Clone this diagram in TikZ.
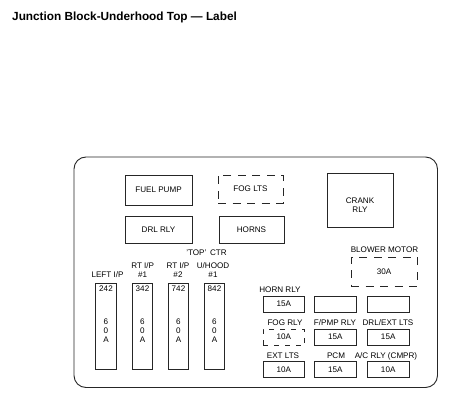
\documentclass[tikz,border=0pt]{standalone}
\usepackage{fontspec}
\setmainfont{Liberation Sans}
\begin{document}
\begin{tikzpicture}[x=1pt,y=-1pt,
  lbl/.style={font=\fontsize{8.1}{8.7}\selectfont, inner sep=0pt, text=black, align=center},
  box/.style={draw=black!85, line width=0.9pt, inner sep=0pt, font=\fontsize{8.1}{8.7}\selectfont, text=black, align=center},
  dbox/.style={box, dash pattern=on 8pt off 6.5pt},
  tall/.style={box, minimum width=20.5pt, minimum height=86pt},
  small/.style={box, minimum width=41.5pt, minimum height=16pt}
]
\useasboundingbox (0,0) rectangle (474,409);
\node[anchor=base west, inner sep=0pt, font=\fontsize{11.8}{13}\selectfont\bfseries] (title) at (12,21) {Junction Block-Underhood Top --- Label};

\node[draw=black!85, line width=0.9pt, rounded corners=12pt, minimum width=363.5pt, minimum height=230.5pt] (frame) at (255.75,272.25) {};

% relays top
\node[box, minimum width=67pt, minimum height=30pt] (fuel) at (158.5,190) {FUEL PUMP};
\node[dbox, minimum width=65pt, minimum height=28pt] (fog) at (250.5,189) {FOG LTS};
\node[box, minimum width=67pt, minimum height=27pt] (drl) at (158.5,229.5) {DRL RLY};
\node[box, minimum width=65pt, minimum height=27pt] (horns) at (251.5,229.5) {HORNS};
\node[box, minimum width=66pt, minimum height=54pt] (crank) at (360,200) {};
\node[lbl] (crankt) at (360,205.5) {CRANK\\RLY};
\node[lbl] (topctr) at (206.5,252.5) {'TOP'\,\ CTR};

% blower motor
\node[lbl] (blowl) at (384.5,250) {BLOWER MOTOR};
\node[dbox, minimum width=66pt, minimum height=29pt] (blow) at (384,271.5) {30A};

% tall fuses
\node[tall] (f1) at (106,326.5) {};
\node[tall] (f2) at (142.5,326.5) {};
\node[tall] (f3) at (178.5,326.5) {};
\node[tall] (f4) at (214.5,326.5) {};
\node[lbl] (l1) at (107.5,275) {LEFT I/P};
\node[lbl] (l2) at (142.7,270) {RT I/P\\\#1};
\node[lbl] (l3) at (178,270) {RT I/P\\\#2};
\node[lbl] (l4) at (213,270) {U/HOOD\\\#1};
\foreach \n/\x/\t in {1/106/242,2/142.5/342,3/178.5/742,4/214.5/842}{
  \node[lbl] (n\n) at (\x,289) {\t};
  \node[lbl] (a\n) at (\x,330.5) {6\\[0.2pt]0\\[0.2pt]A};
}

% small fuses
\node[lbl] (hornl) at (280,290) {HORN RLY};
\node[small] (horn) at (283.8,304) {15A};
\node[small, minimum width=42.5pt] (e1) at (335.4,304) {};
\node[small] (e2) at (388.2,304) {};

\node[lbl] (fogrl) at (285,323) {FOG RLY};
\node[dbox, minimum width=41.5pt, minimum height=16pt, dash pattern=on 5pt off 6pt] (fogr) at (283.8,337) {10A};
\node[lbl] (fpmpl) at (335,323) {F/PMP RLY};
\node[small, minimum width=42.5pt] (fpmp) at (335.4,337) {15A};
\node[lbl] (drlel) at (388,323) {DRL/EXT LTS};
\node[small] (drle) at (388.2,337) {15A};

\node[lbl] (extl) at (283,356) {EXT LTS};
\node[small] (ext) at (283.8,369.5) {10A};
\node[lbl] (pcml) at (336,356) {PCM};
\node[small, minimum width=42.5pt] (pcm) at (335.4,369.5) {15A};
\node[lbl] (acl) at (386,356) {A/C RLY (CMPR)};
\node[small] (ac) at (388.2,369.5) {10A};
\end{tikzpicture}
\end{document}
